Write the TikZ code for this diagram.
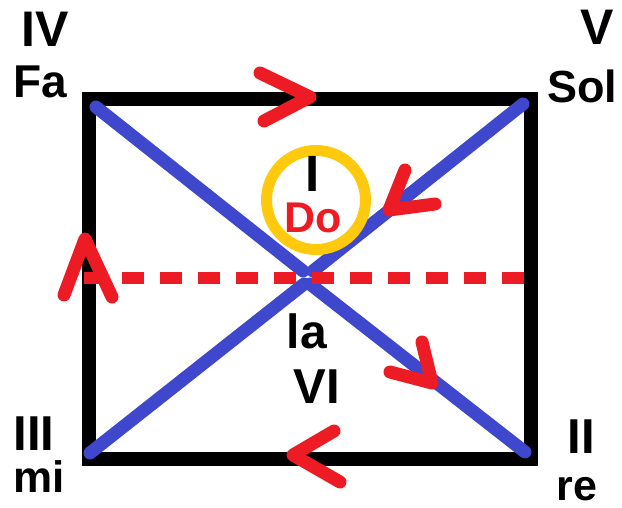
\documentclass[tikz,border=0pt]{standalone}
\usepackage{fontspec}
\setmainfont{Liberation Sans}
\definecolor{pblue}{HTML}{3F48CC}
\definecolor{pred}{HTML}{ED1C24}
\definecolor{pyellow}{HTML}{FFC90E}
\begin{document}
\begin{tikzpicture}[x=1pt,y=-1pt,
  lbl/.style={inner sep=0pt, anchor=base, font=\bfseries\fontsize{#1}{#1}\selectfont},
  lbl/.default=48,
  frame/.style={draw=black, line width=14pt, line join=miter},
  diag/.style={draw=pblue, line width=13pt, line cap=round},
  chev/.style={draw=pred, line width=13pt, line cap=round, line join=round},
  midline/.style={draw=pred, line width=12pt, dash pattern=on 22pt off 16pt},
  ring/.style={draw=pyellow, line width=11pt}
]
\useasboundingbox (0,0) rectangle (622,508);
% corners
\coordinate (cfa) at (89,99.5);
\coordinate (csol) at (531,99.5);
\coordinate (cre) at (531,459);
\coordinate (cmi) at (89,459);
\draw[frame] (cfa) -- (csol) -- (cre) -- (cmi) -- cycle;
% diagonals
\coordinate (dtl) at (96,107);
\coordinate (dtr) at (523,104);
\coordinate (dbl) at (90,453);
\coordinate (dbr) at (525,452);
\coordinate (ctl) at (303,271);
\coordinate (ctr) at (313,271);
\coordinate (cbl) at (304,284);
\coordinate (cbr) at (310,284);
\draw[diag] (dtl) -- (ctl);
\draw[diag] (dtr) -- (ctr);
\draw[diag] (dbl) -- (cbl);
\draw[diag] (dbr) -- (cbr);
% dashed middle line
\coordinate (ml) at (84,278);
\coordinate (mr) at (530,278);
\draw[midline] (ml) -- (mr);
% circle
\node[ring, circle, minimum size=99pt, inner sep=0pt] (ring) at (316,200) {};
% arrows
\coordinate (a1) at (260,73); \coordinate (a2) at (310,97); \coordinate (a3) at (264,121);
\draw[chev] (a1) -- (a2) -- (a3);
\coordinate (b1) at (405,170); \coordinate (b2) at (389,210); \coordinate (b3) at (435,204);
\draw[chev] (b1) -- (b2) -- (b3);
\coordinate (c1) at (422,342); \coordinate (c2) at (432,383); \coordinate (c3) at (390,372);
\draw[chev] (c1) -- (c2) -- (c3);
\coordinate (e1) at (334,431); \coordinate (e2) at (293,455); \coordinate (e3) at (340,482);
\draw[chev] (e1) -- (e2) -- (e3);
\coordinate (f1) at (64,295); \coordinate (f2) at (85,239); \coordinate (f3) at (112,297);
\draw[chev] (f1) -- (f2) -- (f3);
% labels
\node[lbl=50] (tIV) at (45,47) {IV};
\node[lbl=46] (tFa) at (40,98) {Fa};
\node[lbl=50] (tV) at (597,45) {V};
\node[lbl=45] (tSol) at (582,103) {Sol};
\node[lbl=49] (tIII) at (34,450) {III};
\node[lbl=44] (tmi) at (39,492) {mi};
\node[lbl=49] (tII) at (581,453) {II};
\node[lbl=43] (tre) at (577,500) {re};
\node[lbl=51] (tI) at (313,192) {I};
\node[lbl=43, text=pred] (tDo) at (313,233) {Do};
\node[lbl=48] (tla) at (307,348) {la};
\node[lbl=49] (tVI) at (317,403) {VI};
\end{tikzpicture}
\end{document}
